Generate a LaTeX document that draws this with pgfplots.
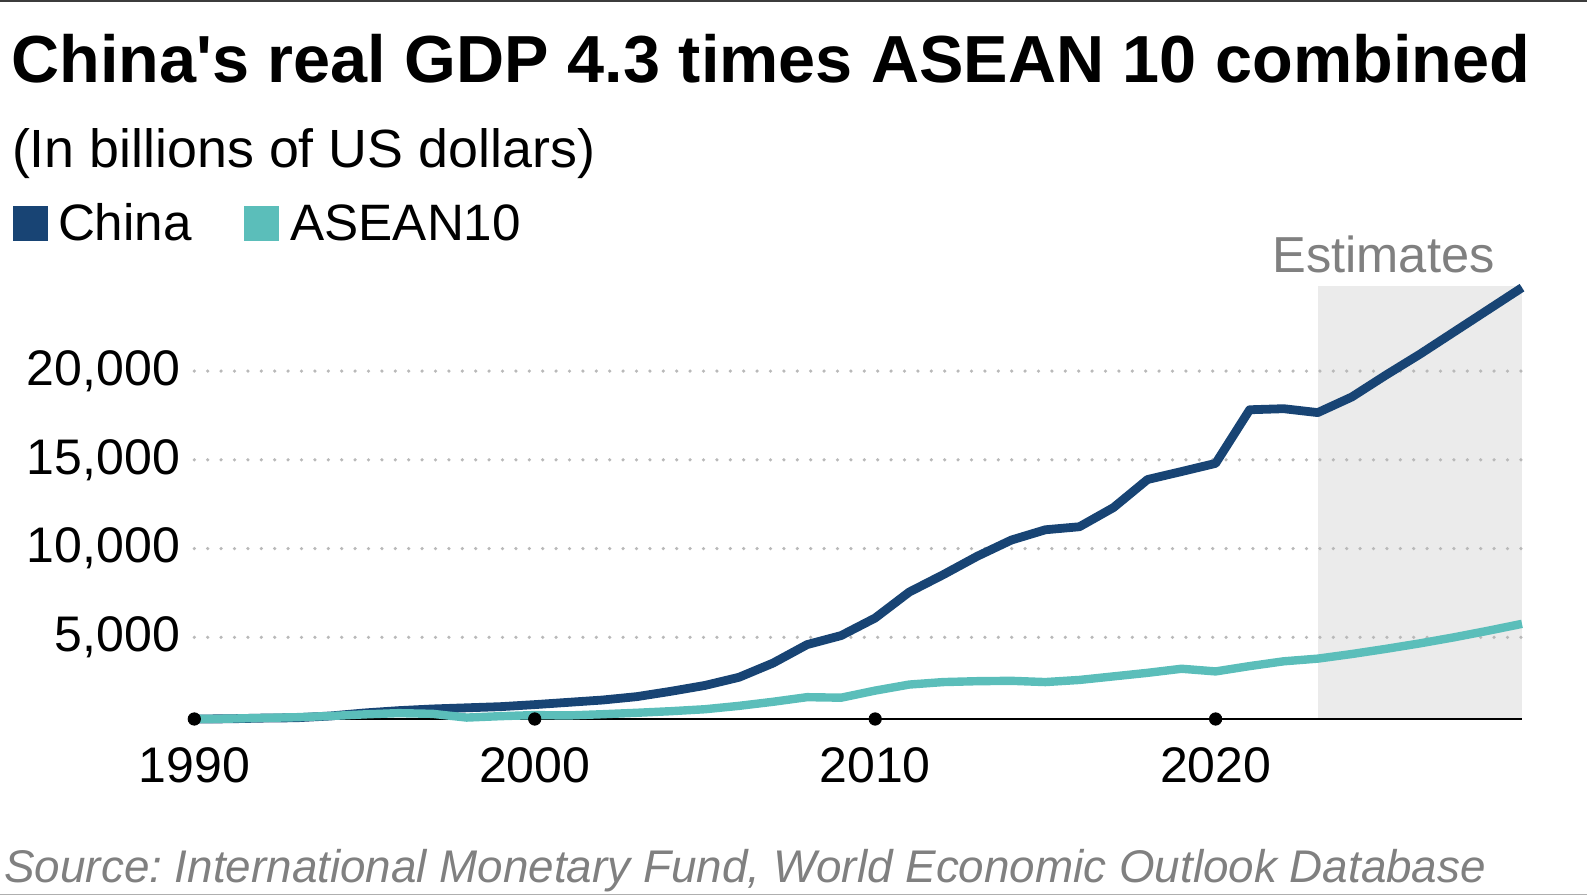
\documentclass[border=0pt]{standalone}
\usepackage{pgfplots}
\pgfplotsset{compat=1.18}
\usepackage{fontspec}
\setmainfont{Liberation Sans}
\frenchspacing
\definecolor{chinablue}{RGB}{24,68,116}
\definecolor{aseanteal}{RGB}{91,190,186}
\definecolor{shade}{RGB}{235,235,235}
\definecolor{griddot}{RGB}{185,185,185}
\definecolor{txtgray}{RGB}{128,128,128}
\definecolor{topline}{RGB}{60,60,60}
\definecolor{botline}{RGB}{175,175,175}
\begin{document}
\begin{tikzpicture}[x=1pt,y=1pt]
\fill[topline] (0,446.6) rectangle (793.5,447.5);
\fill[botline] (0,0) rectangle (793.5,0.6);
\begin{axis}[
  set layers,
  at={(97.15pt,88pt)}, anchor=south west,
  scale only axis, width=663.85pt, height=216.3pt,
  xmin=1990, xmax=2029, ymin=400, ymax=24770,
  clip=false,
  axis line style={draw=none},
  major tick length=0pt,
  xtick={1990,2000,2010,2020},
  ytick={5000,10000,15000,20000},
  scaled y ticks=false,
  ymajorgrids,
  grid style={griddot, line width=1.8pt, line cap=round, dash pattern=on 0pt off 6.7pt},
  tick label style={font=\fontsize{25}{30}\selectfont, /pgf/number format/assume math mode=true},
  x tick label style={/pgf/number format/1000 sep={}, anchor=north, inner sep=0pt, yshift=-14pt},
  y tick label style={/pgf/number format/1000 sep={,}, anchor=east, inner sep=0pt, xshift=-7pt},
]
\addplot[draw=none, fill=shade, on layer=axis background] coordinates {(2023,400) (2023,24770) (2029,24770) (2029,400)} -- cycle;
\addplot[black, line width=0.8pt] coordinates {(1990,400) (2029,400)};
\addplot[chinablue, line width=4.4pt, line join=round] coordinates {
(1990,400) (1991,410) (1992,450) (1993,470) (1994,570) (1995,740) (1996,870) (1997,965) (1998,1030) (1999,1095)
(2000,1210) (2001,1340) (2002,1470) (2003,1660) (2004,1960) (2005,2290) (2006,2750) (2007,3550) (2008,4590) (2009,5100)
(2010,6090) (2011,7550) (2012,8530) (2013,9570) (2014,10480) (2015,11060) (2016,11230) (2017,12310) (2018,13890) (2019,14340)
(2020,14800) (2021,17820) (2022,17880) (2023,17660) (2024,18540) (2025,19770) (2026,20950) (2027,22200) (2028,23450) (2029,24700)
};
\addplot[aseanteal, line width=4.2pt, line join=round] coordinates {
(1990,400) (1991,420) (1992,460) (1993,500) (1994,570) (1995,660) (1996,730) (1997,690) (1998,480) (1999,560)
(2000,620) (2001,600) (2002,670) (2003,750) (2004,840) (2005,950) (2006,1140) (2007,1370) (2008,1630) (2009,1600)
(2010,2000) (2011,2340) (2012,2480) (2013,2530) (2014,2550) (2015,2480) (2016,2600) (2017,2800) (2018,3000) (2019,3230)
(2020,3080) (2021,3380) (2022,3650) (2023,3800) (2024,4060) (2025,4350) (2026,4660) (2027,5000) (2028,5370) (2029,5760)
};
\addplot[only marks, mark=*, mark size=3.1pt, black] coordinates {(1990,400) (2000,400) (2010,400) (2020,400)};
\end{axis}
\node[anchor=base west, inner sep=0pt, font=\fontsize{33.3}{40}\selectfont\bfseries] at (5.6,406) {China\textquotesingle s real GDP 4.3 times ASEAN 10 combined};
\node[anchor=base west, inner sep=0pt, font=\fontsize{26.9}{32}\selectfont] at (5.8,363.5) {(In billions of US dollars)};
\fill[chinablue] (6.6,327) rectangle (23.8,344.3);
\fill[aseanteal] (122,327) rectangle (139.5,344.3);
\node[anchor=base west, inner sep=0pt, font=\fontsize{25.6}{30}\selectfont] at (28.8,327) {China};
\node[anchor=base west, inner sep=0pt, font=\fontsize{25.6}{30}\selectfont] at (145,327) {ASEAN10};
\node[anchor=base east, inner sep=0pt, text=txtgray, font=\fontsize{25.3}{30}\selectfont] at (747.5,311) {Estimates};
\node[anchor=base west, inner sep=0pt, text=txtgray, font=\fontsize{22.9}{28}\selectfont\itshape] at (2,6.3) {Source: International Monetary Fund, World Economic Outlook Database};
\pgfresetboundingbox
\path[use as bounding box] (0,0) rectangle (793.5,447.5);
\end{tikzpicture}
\end{document}
